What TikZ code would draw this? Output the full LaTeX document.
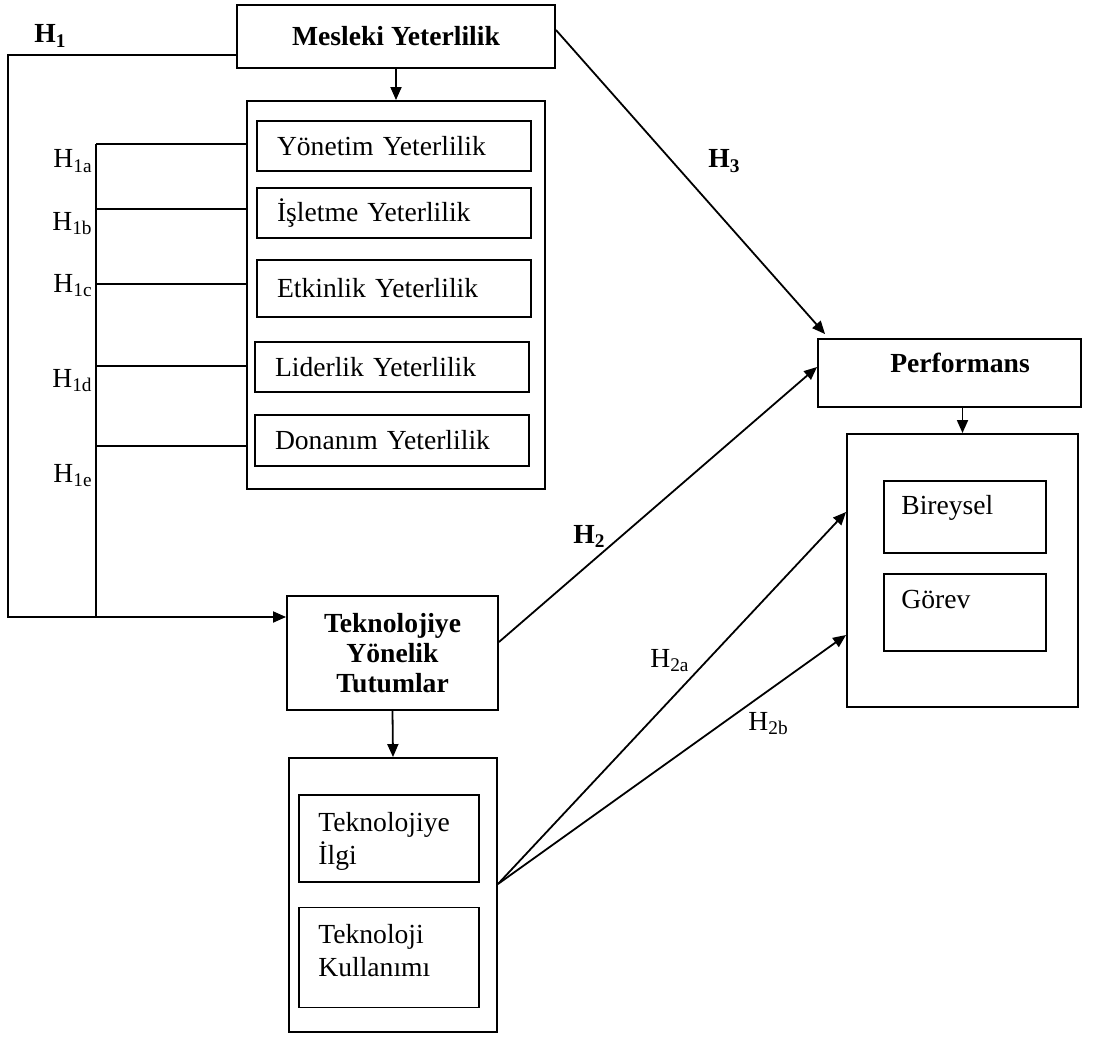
\documentclass[tikz,border=0pt]{standalone}
\usepackage{fontspec}
\setmainfont{Liberation Serif}
\usetikzlibrary{arrows.meta, calc}

\newcommand{\boxfont}{\fontsize{13.8}{15}\selectfont}
\newcommand{\twofont}{\fontsize{13.8}{16.5}\selectfont}

\tikzset{
  box/.style={draw, line width=0.95pt, inner sep=0pt, font=\boxfont},
  subbox/.style={box, minimum width=137pt, text width=117pt, inner xsep=10pt, align=left},
  hlabel/.style={font=\boxfont, inner sep=0pt, anchor=base west},
  link/.style={line width=0.9pt},
  arr/.style={link, ->}
}

\begin{document}
\begin{tikzpicture}[x=0.5pt, y=-0.5pt, >={Triangle[length=6.5pt, width=5.5pt]}]

% Page frame (1px = 0.5pt, y downwards)
\useasboundingbox (0,0) rectangle (1098,1038);

% Mesleki Yeterlilik and its dimensions
\node[box, font=\boxfont\bfseries, minimum width=159pt, minimum height=31.5pt] (mesleki) at (396,36.5) {Mesleki Yeterlilik};
\node[box, minimum width=149pt, minimum height=194pt] (ycont) at (396,295) {};
\node[subbox, minimum height=25pt] (yonetim) at (394,146) {Yönetim Yeterlilik};
\node[subbox, minimum height=25pt] (isletme) at (394,213) {İşletme Yeterlilik};
\node[subbox, minimum height=28.5pt] (etkinlik) at (394,288.5) {Etkinlik Yeterlilik};
\node[subbox, minimum height=25pt] (liderlik) at (392,367) {Liderlik Yeterlilik};
\node[subbox, minimum height=25.5pt] (donanim) at (392,440.5) {Donanım Yeterlilik};

% Teknolojiye Yönelik Tutumlar and its dimensions
\node[box, font=\boxfont\bfseries, align=center, minimum width=105.5pt, minimum height=57pt] (tekno) at (392.5,653) {Teknolojiye\\Yönelik\\Tutumlar};
\node[box, minimum width=104pt, minimum height=137pt] (tcont) at (393,895) {};
\node[box, minimum width=90pt, minimum height=43.5pt] (ilgi) at (389,838.5) {};
\node[box, minimum width=90pt, minimum height=50pt] (kullanim) at (389,957.5) {};
\node[font=\twofont, inner sep=0pt, anchor=north west, align=left] (ilgitxt) at (318,812) {Teknolojiye\\İlgi};
\node[font=\twofont, inner sep=0pt, anchor=north west, align=left] (kullanimtxt) at (318,924) {Teknoloji\\Kullanımı};

% Performans and its dimensions
\node[box, minimum width=131.5pt, minimum height=34pt] (perf) at (949.5,373) {};
\node[font=\boxfont\bfseries, inner sep=0pt] (perftxt) at (960,363) {Performans};
\node[box, minimum width=115.5pt, minimum height=136.5pt] (pcont) at (962.5,570.5) {};
\node[box, minimum width=81pt, minimum height=36pt] (bireysel) at (965,517) {};
\node[box, minimum width=81pt, minimum height=38.5pt] (gorev) at (965,612.5) {};
\node[hlabel] (bireyseltxt) at (901,514) {Bireysel};
\node[hlabel] (gorevtxt) at (901,608) {Görev};

% H1 path round the left side
\coordinate (h1corner) at (8,617);
\draw[arr] ([yshift=-9.25pt]mesleki.west) -| (h1corner) -- (h1corner -| tekno.west);

% bracket for H1a - H1e
\coordinate (brtop) at (96,144);
\coordinate (brbot) at (96,617);
\draw[link] (brtop) -- (brbot);
\foreach \yy in {144,209,284,366,446} {
  \coordinate (tick) at (96,\yy);
  \draw[link] (tick) -- (tick -| ycont.west);
}

% downward arrows
\draw[arr] (mesleki.south) -- (ycont.north);
\draw[arr] (tekno.south) -- (tcont.north);
\draw[arr] (pcont.north |- perf.south) -- (pcont.north);

% hypotheses H3, H2, H2a, H2b
\draw[arr] ([yshift=3.25pt]mesleki.east) -- ([xshift=4pt, yshift=2pt]perf.north west);
\draw[arr] ([yshift=5.5pt]tekno.east) -- ([yshift=3pt]perf.west);
\coordinate (src) at ([yshift=5.5pt]tcont.east);
\draw[arr] (src) -- ([yshift=29.25pt]pcont.west);
\draw[arr] (src) -- ([yshift=-32.25pt]pcont.west);

% hypothesis labels
\node[hlabel, font=\boxfont\bfseries] (h1) at (34,43) {H\textsubscript{1}};
\node[hlabel, anchor=base east] (h1a) at (93,168) {H\textsubscript{1a}};
\node[hlabel, anchor=base east] (h1b) at (93,230) {H\textsubscript{1b}};
\node[hlabel, anchor=base east] (h1c) at (93,292) {H\textsubscript{1c}};
\node[hlabel, anchor=base east] (h1d) at (93,387) {H\textsubscript{1d}};
\node[hlabel, anchor=base east] (h1e) at (93,482) {H\textsubscript{1e}};
\node[hlabel, font=\boxfont\bfseries] (h3) at (708,168) {H\textsubscript{3}};
\node[hlabel, font=\boxfont\bfseries] (h2) at (573,543) {H\textsubscript{2}};
\node[hlabel] (h2a) at (650,667) {H\textsubscript{2a}};
\node[hlabel] (h2b) at (748,730) {H\textsubscript{2b}};

\end{tikzpicture}
\end{document}
